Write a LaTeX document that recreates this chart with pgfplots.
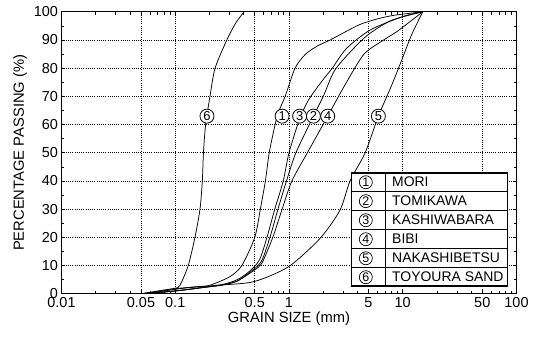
\documentclass[border=0pt]{standalone}
\usepackage{fontspec}
\setmainfont{Liberation Sans}
\usepackage{pgfplots}
\pgfplotsset{compat=1.18}
\newcommand\cn[1]{\tikz[baseline=(c.base)]\node[circle,draw,line width=0.7pt,inner sep=0pt,minimum size=13bp,font=\fontsize{12.5}{12.5}\selectfont](c){#1};}
\begin{document}
\begin{tikzpicture}
\tikzset{cnum/.style={circle,draw,line width=0.8pt,inner sep=0pt,minimum size=14bp,font=\fontsize{13}{13}\selectfont,fill=white}}
\begin{axis}[name=ax, scale only axis, width=455bp, height=282bp,
 xmode=log, xmin=0.01, xmax=100, ymin=0, ymax=100,
 xtick={0.01,0.05,0.1,0.5,1,5,10,50,100},
 xticklabels={0.01,0.05,0.1,0.5,1,5,10,50,100},
 minor xtick={0.02,0.03,0.04,0.06,0.07,0.08,0.09,0.2,0.3,0.4,0.6,0.7,0.8,0.9,2,3,4,6,7,8,9,20,30,40,60,70,80,90},
 ytick={0,10,...,100}, minor ytick={5,15,...,95},
 xmajorgrids, ymajorgrids,
 major grid style={black, line width=0.8pt, dash pattern=on 0.8pt off 1.4pt},
 axis line style={line width=1.4pt},
 tick style={black, line width=0.7pt}, major tick length=4bp, minor tick length=3bp,
 tick align=inside,
 ticklabel style={font=\fontsize{14.5}{14.5}\selectfont},
 /pgf/number format/assume math mode=true,
 xlabel={GRAIN SIZE (mm)}, ylabel={PERCENTAGE PASSING (\%)},
 label style={font=\fontsize{14.8}{14.8}\selectfont},
 xlabel style={yshift=3bp},
 cycle list={{black,solid,mark=none}},
 every axis plot/.append style={line width=0.75pt, smooth, tension=0.45},
]
% 1 MORI
\addplot coordinates {(0.05,0) (0.07,0.8) (0.1,1.8) (0.15,2.5) (0.2,3) (0.3,6) (0.385,10) (0.5,20) (0.56,30) (0.62,40) (0.67,50) (0.755,60) (0.82,65) (0.925,70) (1.13,80) (1.4,85) (1.8,88) (2.3,90) (3,92.5) (4.2,95.5) (6,97.5) (8.5,98.8) (15,100)};
% 2 TOMIKAWA
\addplot coordinates {(0.05,0) (0.1,1) (0.2,2.5) (0.25,3) (0.35,4.5) (0.5,9) (0.58,12) (0.68,20) (0.8,30) (0.95,40) (1.15,50) (1.64,63) (2,70) (2.5,79) (3.5,86) (5,92) (8,97) (15,100)};
% 3 KASHIWABARA
\addplot coordinates {(0.05,0) (0.08,1) (0.12,2) (0.25,3.2) (0.35,5) (0.45,8) (0.55,12) (0.64,20) (0.75,30) (0.89,40) (1.0,50) (1.24,62) (1.5,69) (2,76) (2.4,80) (3.2,87) (5.2,93.6) (10,98.3) (15,100)};
% 4 BIBI
\addplot coordinates {(0.05,0) (0.1,1) (0.2,2.5) (0.25,3) (0.35,4.5) (0.5,8.5) (0.58,11) (0.72,20) (0.87,30) (1.06,40) (1.45,50) (2.19,63) (3,73) (4.5,84.7) (6.5,89.5) (8.9,93) (12,97) (15,100)};
% 5 NAKASHIBETSU
\addplot coordinates {(0.05,0) (0.1,1) (0.24,3) (0.49,4.3) (0.99,9.6) (1.88,19.7) (2.81,29.7) (3.44,40) (4.67,50) (6.11,63) (8,74) (9.82,83) (12,92) (15,100)};
% 6 TOYOURA SAND
\addplot coordinates {(0.05,0) (0.07,1) (0.1,2) (0.11,3) (0.13,10) (0.149,20) (0.165,30) (0.173,40) (0.177,50) (0.185,60) (0.202,70) (0.224,80) (0.284,90) (0.34,96) (0.403,100)};
\node[cnum] at (axis cs:0.19,63) {6};
\node[cnum] at (axis cs:0.87,63) {1};
\node[cnum] at (axis cs:1.24,63) {3};
\node[cnum] at (axis cs:1.64,63) {2};
\node[cnum] at (axis cs:2.19,63) {4};
\node[cnum] at (axis cs:6.11,63) {5};
\node[anchor=south east, draw, line width=1.3pt, fill=white, inner sep=0pt, font=\fontsize{14}{14}\selectfont] at (rel axis cs:0.981,0.025) {%
\setlength\arrayrulewidth{0.8pt}\renewcommand\arraystretch{1}%
\begin{tabular}{@{}c|@{}l@{}}
\makebox[28bp]{\cn{1}}\rule[-4.6bp]{0pt}{18.2bp} & \makebox[121bp][l]{\hspace{6bp}MORI}\\ \hline
\makebox[28bp]{\cn{2}}\rule[-4.6bp]{0pt}{18.2bp} & \makebox[121bp][l]{\hspace{6bp}TOMIKAWA}\\ \hline
\makebox[28bp]{\cn{3}}\rule[-4.6bp]{0pt}{18.2bp} & \makebox[121bp][l]{\hspace{6bp}KASHIWABARA}\\ \hline
\makebox[28bp]{\cn{4}}\rule[-4.6bp]{0pt}{18.2bp} & \makebox[121bp][l]{\hspace{6bp}BIBI}\\ \hline
\makebox[28bp]{\cn{5}}\rule[-4.6bp]{0pt}{18.2bp} & \makebox[121bp][l]{\hspace{6bp}NAKASHIBETSU}\\ \hline
\makebox[28bp]{\cn{6}}\rule[-4.6bp]{0pt}{18.2bp} & \makebox[121bp][l]{\hspace{6bp}TOYOURA SAND}\\
\end{tabular}};
\end{axis}
\pgfresetboundingbox
\path[use as bounding box] ([shift={(-61.5bp,-45.2bp)}]ax.south west) rectangle ([shift={(18.5bp,11.8bp)}]ax.north east);
\end{tikzpicture}
\end{document}
